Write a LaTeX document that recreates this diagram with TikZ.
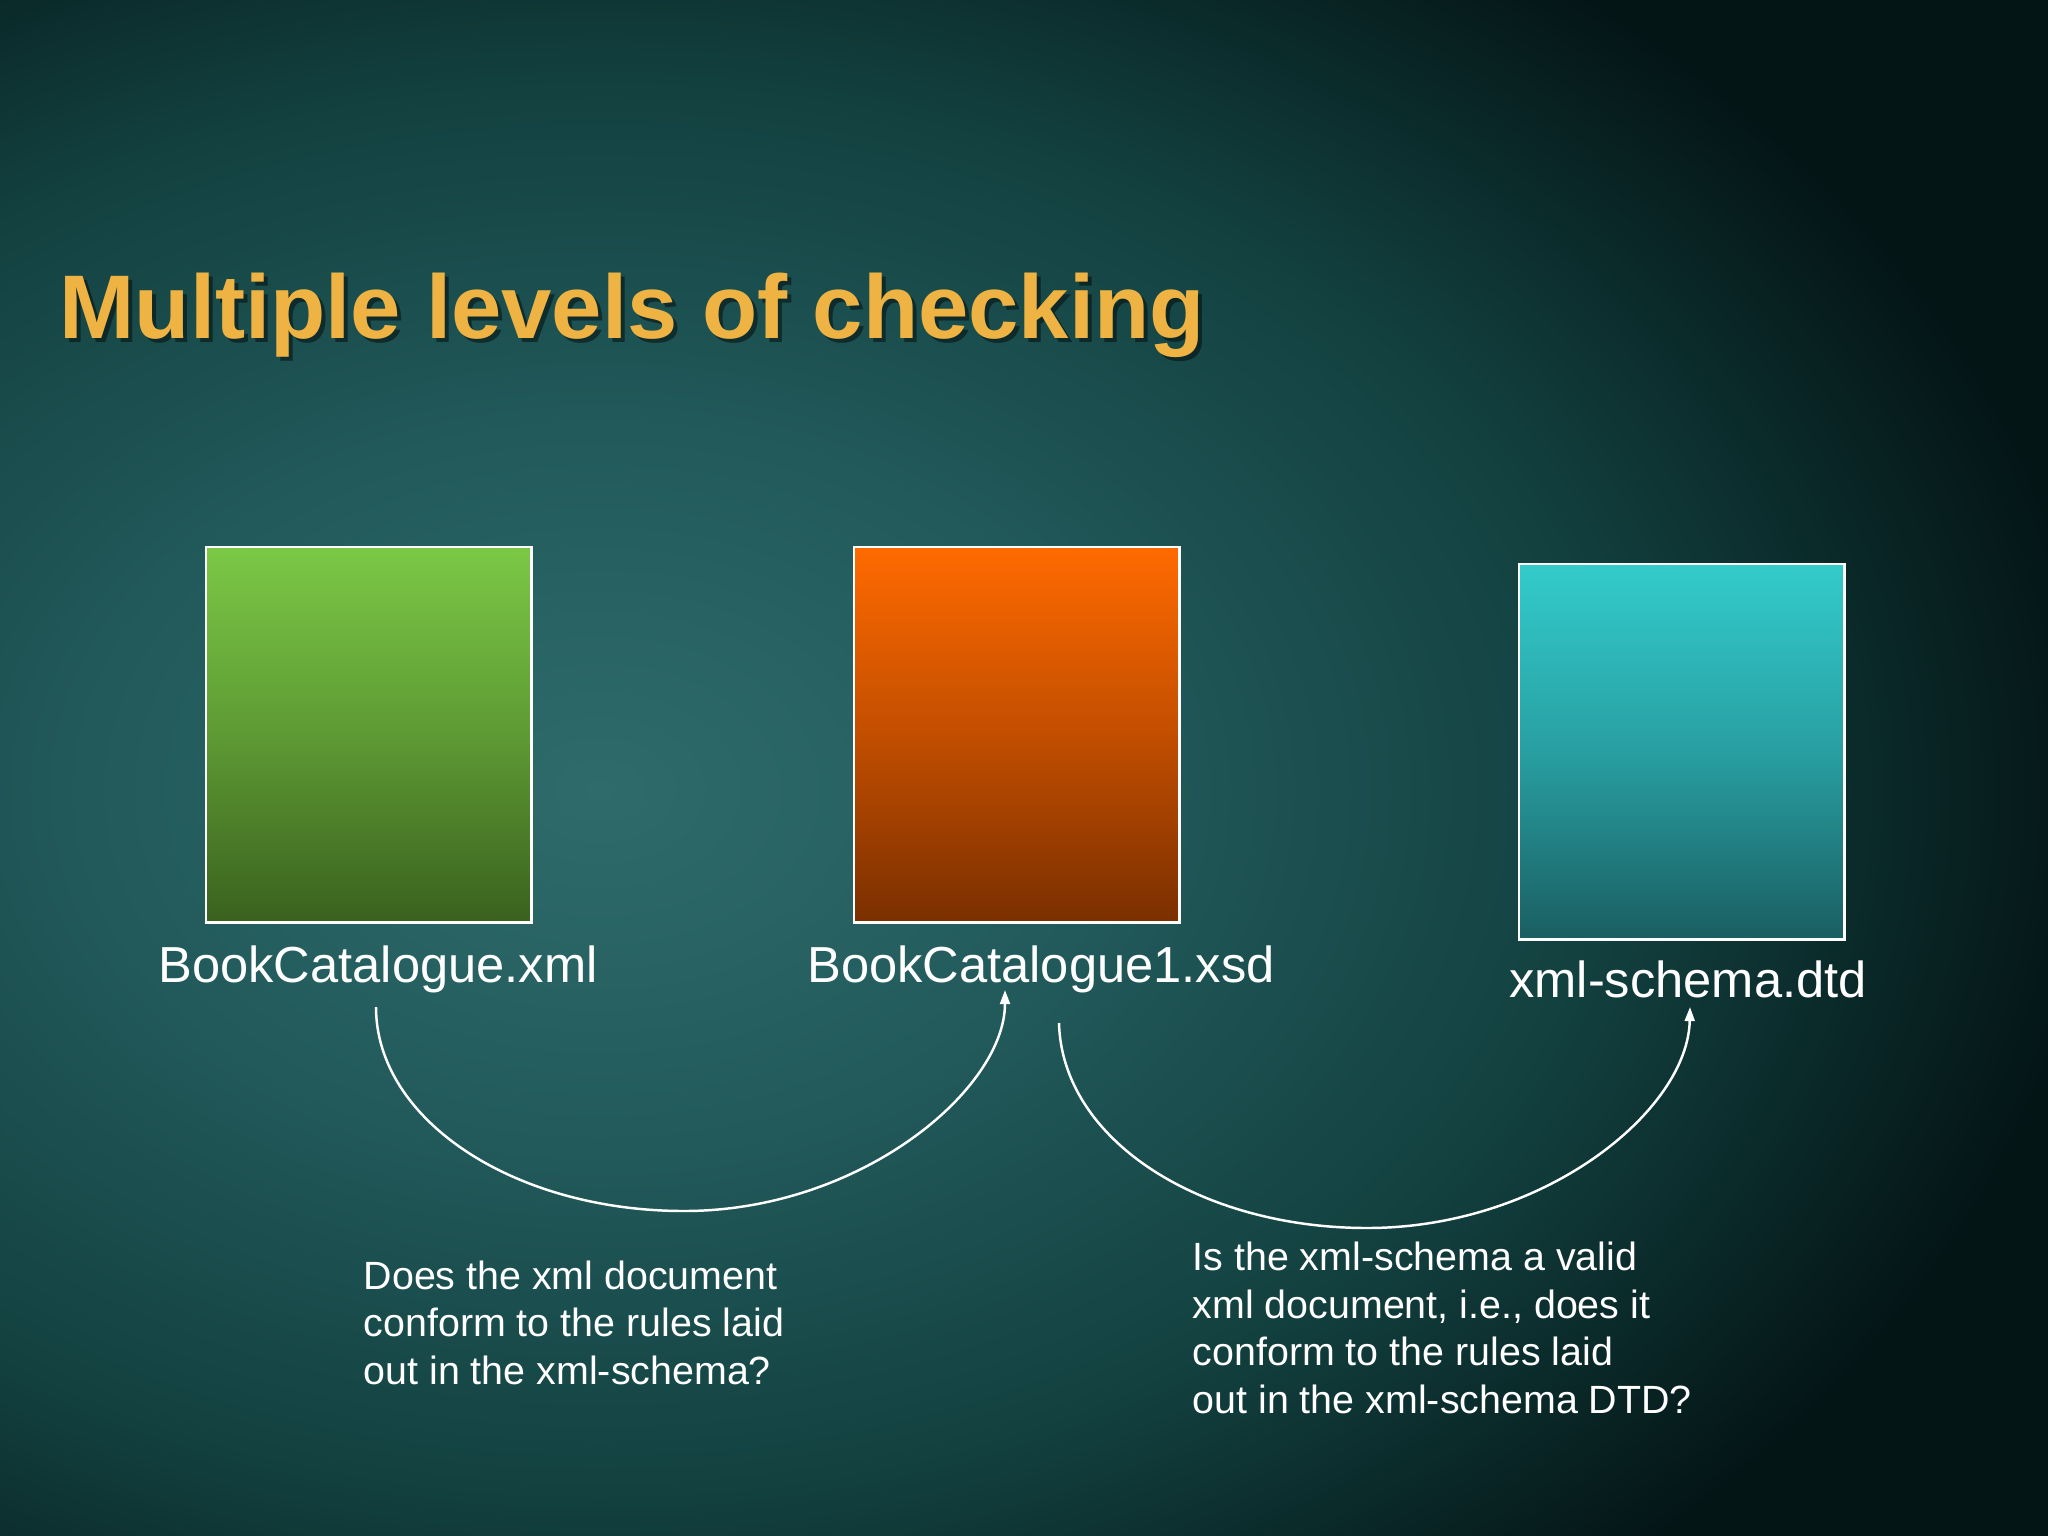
\documentclass[tikz,border=0pt]{standalone}
\usepackage{fontspec}
\setmainfont{Liberation Sans}
\usetikzlibrary{arrows.meta,calc}
\definecolor{titlecol}{HTML}{EFB343}
\definecolor{bgA}{HTML}{2F6B6B}
\definecolor{bgB}{HTML}{235B5C}
\definecolor{bgC}{HTML}{12403F}
\definecolor{bgD}{HTML}{041516}
\definecolor{gTop}{HTML}{7BC846}
\definecolor{gMid}{HTML}{5E9A34}
\definecolor{gBot}{HTML}{3A611E}
\definecolor{oTop}{HTML}{FF6A00}
\definecolor{oMid}{HTML}{C24E00}
\definecolor{oBot}{HTML}{7A2F00}
\definecolor{cTop}{HTML}{33CBCB}
\definecolor{cMid}{HTML}{289FA2}
\definecolor{cBot}{HTML}{1A5E61}
\pgfdeclareradialshading{bgshade}{\pgfpoint{0bp}{0bp}}{color(0bp)=(bgA); color(8bp)=(bgB); color(17bp)=(bgC); color(25bp)=(bgD); color(50bp)=(bgD)}
\tikzset{
  docbox/.style={draw=white, line width=0.7pt, inner sep=0pt, anchor=north west,
                 minimum width=3.25cm, minimum height=3.75cm},
  lbl/.style={text=white, font=\fontsize{14.4pt}{17pt}\selectfont, inner sep=0pt, anchor=base},
  qtext/.style={text=white, font=\fontsize{11.2pt}{13.5pt}\selectfont, align=left, inner sep=0pt, anchor=base west},
  conn/.style={draw=white, line width=0.7pt, -{Triangle[length=4pt,width=2.8pt]}}
}
\begin{document}
\begin{tikzpicture}[x=0.01cm,y=-0.01cm]
\useasboundingbox (0,0) rectangle (2048,1536);
\fill[bgD] (0,0) rectangle (2048,1536);
\begin{scope}
  \clip (0,0) rectangle (2048,1536);
  \shade[shading=bgshade] (600,790) ellipse [x radius=1500, y radius=1050];
\end{scope}

% title
\node[anchor=base west, inner sep=0pt, text=black, opacity=0.45,
      font=\fontsize{25.7pt}{30pt}\selectfont\bfseries] (titleshadow) at (63,342) {Multiple levels of checking};
\node[anchor=base west, inner sep=0pt, text=titlecol,
      font=\fontsize{25.7pt}{30pt}\selectfont\bfseries] (title) at (59,338) {Multiple levels of checking};

% boxes
\node[docbox, top color=gTop, bottom color=gBot, middle color=gMid] (g) at (205,546) {};
\node[docbox, top color=oTop, bottom color=oBot, middle color=oMid] (o) at (853,546) {};
\node[docbox, top color=cTop, bottom color=cBot, middle color=cMid] (c) at (1518,563) {};

% labels
\node[lbl] (l1) at (378,982) {BookCatalogue.xml};
\node[lbl] (l2) at (1041,982) {BookCatalogue1.xsd};
\node[lbl] (l3) at (1688,997) {xml-schema.dtd};

% connector end points
\coordinate (a1) at (376,1007);
\coordinate (b1) at (1005,990);
\coordinate (a2) at (1059,1023);
\coordinate (b2) at (1690,1007);

\draw[conn] (a1) .. controls (376,1120) and (514,1211) .. (684,1211)
               .. controls (861,1211) and (1005,1089) .. (b1);
\draw[conn] (a2) .. controls (1062,1140) and (1200,1228) .. (1367,1228)
               .. controls (1545,1228) and (1688,1110) .. (b2);

% questions (anchor = baseline of last line)
\node[qtext] (q1) at (363,1384) {Does the xml document\\conform to the rules laid\\out in the xml-schema?};
\node[qtext] (q2) at (1192,1413) {Is the xml-schema a valid\\xml document, i.e., does it\\conform to the rules laid\\out in the xml-schema DTD?};
\end{tikzpicture}
\end{document}
